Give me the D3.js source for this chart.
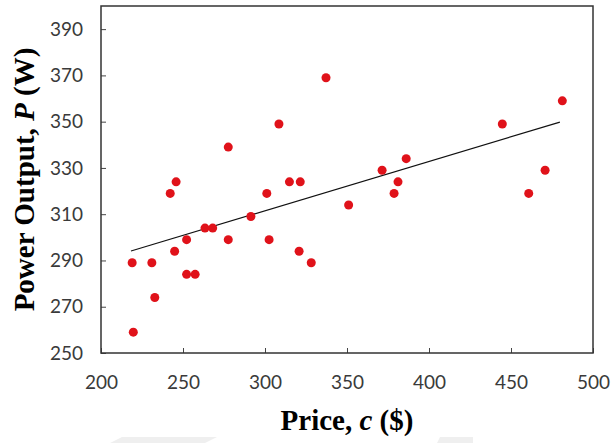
<!DOCTYPE html>
<html>
<head>
<meta charset="utf-8">
<script src="https://cdn.jsdelivr.net/npm/d3@7"></script>
<style>
  body { margin: 0; background: #fff; }
  svg { display: block; }
</style>
</head>
<body>
<svg id="chart" width="611" height="443"></svg>
<script>
// price ($) and power output (W) for each unit
var prices = [219, 219.7, 231, 232.8, 242.2, 245.8, 244.9, 252.2, 252.2, 257.4, 263.4, 268.1,
              277.6, 277.6, 291.4, 301.1, 302.5, 308.5, 314.9, 321.5, 320.8, 328.2, 337.2, 351,
              371.4, 378.7, 381.1, 386.1, 444.7, 460.8, 470.8, 481.3];
var power = [289, 259, 289, 274, 319, 324, 294, 299, 284, 284, 304, 304,
             299, 339, 309, 319, 299, 349, 324, 324, 294, 289, 369, 314,
             329, 319, 324, 334, 349, 319, 329, 359];

// linear trend line end points
var trendX = [218.3, 479.8];
var trendY = [294.1, 349.8];

var xTicks = [200, 250, 300, 350, 400, 450, 500];
var yTicks = [250, 270, 290, 310, 330, 350, 370, 390];

var svg = d3.select("#chart"),
    margin = {top: 6, right: 18, bottom: 90, left: 101},
    width = 611 - margin.left - margin.right,
    height = 443 - margin.top - margin.bottom;

var x = d3.scaleLinear().domain([200, 500]).range([0, width]),
    y = d3.scaleLinear().domain([250, 400]).range([height, 0]);

// faint grey marks along the bottom edge of the picture
svg.append("path")
    .attr("d", "M110,443 L122,437 L217,437 L205,443 Z M437,443 L440,437 L473,437 L473,443 Z")
    .attr("fill", "#efefef");

var g = svg.append("g")
    .attr("transform", "translate(" + margin.left + "," + margin.top + ")");

// axes, ticks pointing inwards
var xAxis = g.append("g")
    .attr("transform", "translate(0," + height + ")")
    .call(d3.axisBottom(x).tickValues(xTicks).tickSizeInner(-5).tickSizeOuter(0).tickPadding(23));

var yAxis = g.append("g")
    .call(d3.axisLeft(y).tickValues(yTicks).tickSizeInner(-5).tickSizeOuter(0).tickPadding(18));

[xAxis, yAxis].forEach(function(a) {
  a.select(".domain").remove();
  a.selectAll("line").attr("stroke", "#444").attr("stroke-width", 1);
  a.selectAll("text")
    .style("font-family", "Lato, 'Open Sans', sans-serif")
    .style("font-size", "19px")
    .attr("fill", "#3a3a3a");
});

// frame
g.append("rect")
    .attr("x", 0).attr("y", 0)
    .attr("width", width).attr("height", height)
    .attr("fill", "none")
    .attr("stroke", "#333")
    .attr("stroke-width", 1.5);

// trend line
g.append("line")
    .attr("x1", x(trendX[0])).attr("y1", y(trendY[0]))
    .attr("x2", x(trendX[1])).attr("y2", y(trendY[1]))
    .attr("stroke", "#111")
    .attr("stroke-width", 1.2);

// points
g.append("g")
  .selectAll("circle")
  .data(prices)
  .enter()
  .append("circle")
    .attr("cx", function(d) { return x(d); })
    .attr("cy", function(d, i) { return y(power[i]); })
    .attr("r", 4.5)
    .attr("fill", "#e0121a");

// axis titles
svg.append("text")
    .attr("x", margin.left + width / 2)
    .attr("y", 430)
    .attr("text-anchor", "middle")
    .style("font-family", "'Liberation Serif', 'Times New Roman', serif")
    .style("font-weight", "bold")
    .style("font-size", "29px")
    .html("Price, <tspan font-style='italic'>c</tspan> ($)");

svg.append("text")
    .attr("text-anchor", "middle")
    .attr("transform", "translate(34," + (margin.top + height / 2) + ")rotate(-90)")
    .style("font-family", "'Liberation Serif', 'Times New Roman', serif")
    .style("font-weight", "bold")
    .style("font-size", "29px")
    .html("Power Output, <tspan font-style='italic'>P</tspan> (W)");
</script>
</body>
</html>
